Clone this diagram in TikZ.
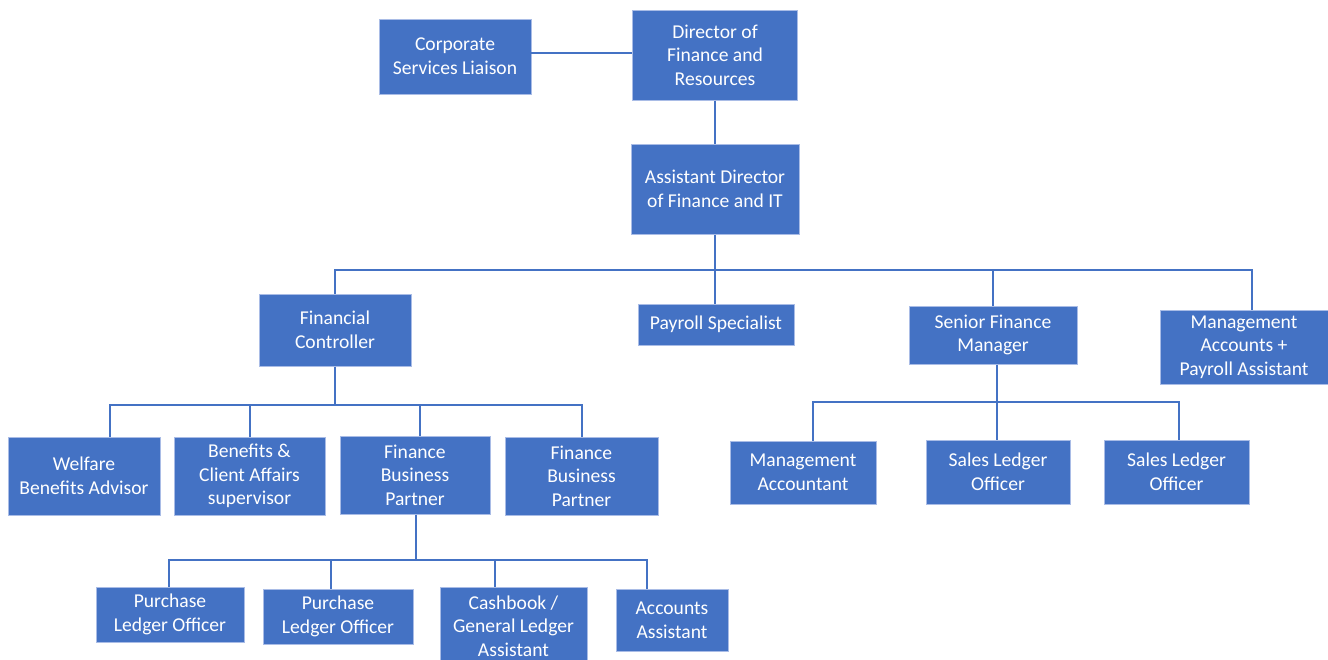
\documentclass[tikz,border=0pt]{standalone}
\usepackage{fontspec}
\setmainfont{Carlito}
\usetikzlibrary{calc}
\definecolor{boxblue}{HTML}{4472C4}
\definecolor{edgeblue}{HTML}{A9BCE6}

\begin{document}
\begin{tikzpicture}[x=0.5pt,y=-0.5pt,
  post/.style={fill=boxblue,draw=edgeblue,line width=0.5pt,text=white,align=center,inner sep=0pt,
    font=\fontsize{9.8}{11.8}\selectfont},
  link/.style={draw=boxblue,line width=1pt}]
\useasboundingbox (0,0) rectangle (1328,659);
% top
\node[post,minimum width=76pt,minimum height=37.5pt] (csl) at (455,56.5) {Corporate\\Services Liaison};
\node[post,minimum width=82.5pt,minimum height=45pt] (dfr) at (715,55) {Director of\\Finance and\\Resources};
\node[post,minimum width=84pt,minimum height=45pt] (adf) at (715,189) {Assistant Director\\of Finance and IT};
% second row
\node[post,minimum width=76pt,minimum height=36pt] (fc) at (335,330) {Financial\\Controller};
\node[post,minimum width=78pt,minimum height=20.5pt] (ps) at (716,324.5) {Payroll Specialist};
\node[post,minimum width=84pt,minimum height=29pt] (sfm) at (993,335) {Senior Finance\\Manager};
\node[post,minimum width=84pt,minimum height=37pt] (map) at (1244,347) {Management\\Accounts +\\Payroll Assistant};
% third row
\node[post,minimum width=76pt,minimum height=39pt] (wba) at (84,476) {Welfare\\Benefits Advisor};
\node[post,minimum width=75.5pt,minimum height=39pt] (bca) at (249.5,476) {Benefits \&\\Client Affairs\\supervisor};
\node[post,minimum width=75pt,minimum height=39pt] (fbpa) at (415,475) {Finance\\Business\\Partner};
\node[post,minimum width=76.5pt,minimum height=39pt] (fbpb) at (581.5,476) {Finance\\Business\\Partner};
\node[post,minimum width=73pt,minimum height=31.5pt] (ma) at (803,472.5) {Management\\Accountant};
\node[post,minimum width=72pt,minimum height=32pt] (sloa) at (998,472) {Sales Ledger\\Officer};
\node[post,minimum width=72.5pt,minimum height=32pt] (slob) at (1176.5,472) {Sales Ledger\\Officer};
% bottom row
\node[post,minimum width=74pt,minimum height=27.5pt] (ploa) at (170,614.5) {Purchase\\Ledger Officer};
\node[post,minimum width=75pt,minimum height=27.5pt] (plob) at (338,616.5) {Purchase\\Ledger Officer};
\node[post,minimum width=73.5pt,minimum height=39pt] (cgl) at (513.5,626) {Cashbook /\\General Ledger\\Assistant};
\node[post,minimum width=56pt,minimum height=31pt] (aa) at (672,620) {Accounts\\Assistant};
% connectors
\coordinate (liaison) at (531,53);
\coordinate (topbus) at (715,270);
\coordinate (fcbus) at (335,405);
\coordinate (sfmbus) at (997,402);
\coordinate (fbpbus) at (416,560);
\draw[link] (liaison) -- (liaison -| dfr.west);
\draw[link] (dfr.south) -- (adf.north);
\draw[link] (adf.south) -- (topbus);
\draw[link] (topbus) -| (fc.north);
\draw[link] (topbus) -- (topbus |- ps.north);
\draw[link] (topbus) -| (sfm.north);
\draw[link] (topbus) -| ($(map.north)+(8,0)$);
\draw[link] (fc.south) -- (fcbus);
\foreach \n/\dx in {wba/26,bca/0,fbpa/5,fbpb/0}
  \draw[link] (fcbus) -| ($(\n.north)+(\dx,0)$);
\draw[link] (sfmbus |- sfm.south) -- (sfmbus |- sloa.north);
\foreach \n/\dx in {ma/10,slob/2.5}
  \draw[link] (sfmbus) -| ($(\n.north)+(\dx,0)$);
\draw[link] (fbpbus |- fbpa.south) -- (fbpbus);
\foreach \n/\dx in {ploa/-1,plob/-7,cgl/-18.5,aa/-25}
  \draw[link] (fbpbus) -| ($(\n.north)+(\dx,0)$);
\end{tikzpicture}
\end{document}
